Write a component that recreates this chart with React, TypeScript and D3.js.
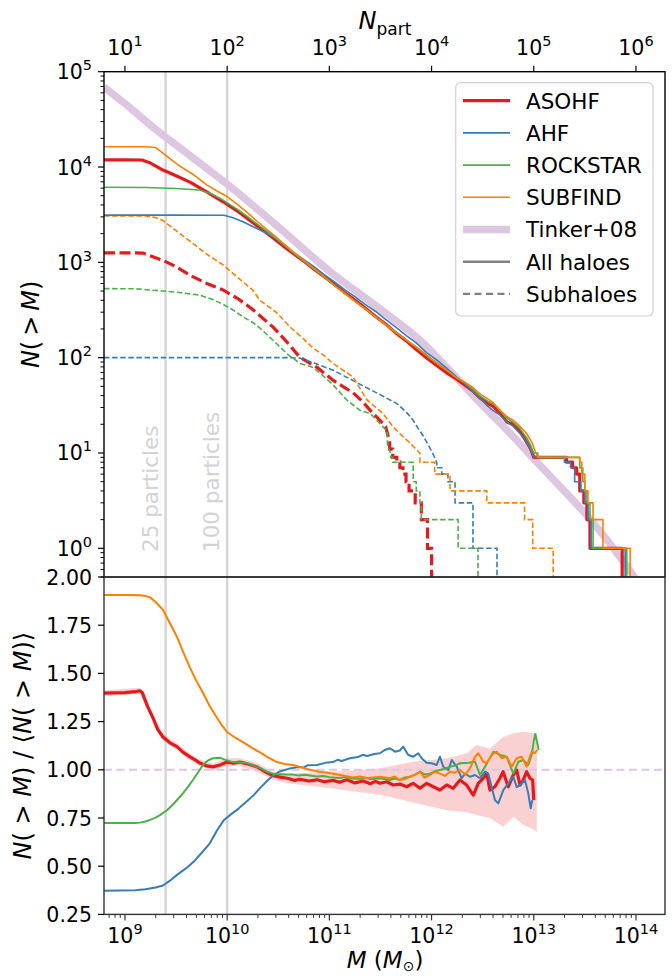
import React from "react";
import * as d3 from "d3";

// ---------------- DATA ----------------
// top panel: [log10 M, N(>M)]
const tinker08: [number, number][] = [
  [8.795, 69200], [9.0, 46200], [9.372, 21600], [9.5, 17000], [10.0, 6610], [10.5, 2350],
  [11.0, 810], [11.5, 322], [11.9, 148], [12.2, 69], [12.5, 31.6], [12.8, 14.8], [13.0, 8.7],
  [13.3, 3.98], [13.5, 2.34], [13.7, 1.29], [13.85, 0.79], [14.0, 0.468], [14.05, 0.38],
];

const asohfAll: [number, number][] = [
  [8.795, 11900], [9.0, 11900], [9.166, 11850], [9.25, 11000], [9.372, 9300], [9.5, 8100],
  [9.636, 6950], [9.8, 5500], [9.96, 4320], [10.1, 3450], [10.22, 2760], [10.33, 2250],
  [10.45, 1800], [10.55, 1480], [10.65, 1230], [10.75, 1030], [10.85, 845], [10.95, 705],
  [11.05, 585], [11.15, 482], [11.25, 402], [11.35, 331], [11.45, 272], [11.55, 226],
  [11.65, 182], [11.75, 151], [11.85, 122], [11.95, 100], [12.05, 83], [12.15, 69],
  [12.25, 59], [12.33, 51], [12.4, 45], [12.47, 38], [12.55, 33], [12.6, 31], [12.67, 26],
  [12.74, 21], [12.8, 20], [12.865, 17], [12.93, 13], [12.97, 11], [13.0, 9], [13.32, 9],
  [13.32, 8], [13.38, 8], [13.38, 7], [13.42, 7], [13.42, 6], [13.45, 6], [13.45, 4],
  [13.49, 4], [13.49, 3], [13.52, 3], [13.52, 2], [13.55, 2], [13.55, 1], [13.865, 1], [13.865, 0.1],
];

const ahfAll: [number, number][] = [
  [8.795, 3130], [9.5, 3130], [9.97, 3120], [10.05, 2950], [10.15, 2680], [10.25, 2380],
  [10.35, 2110], [10.45, 1850], [10.55, 1530], [10.65, 1260], [10.75, 1070], [10.85, 900],
  [10.95, 745], [11.05, 622], [11.15, 518], [11.25, 437], [11.35, 363], [11.45, 307],
  [11.55, 252], [11.65, 209], [11.75, 171], [11.85, 143], [11.95, 113], [12.05, 95],
  [12.15, 77], [12.25, 62], [12.33, 53], [12.4, 45], [12.47, 38], [12.55, 31], [12.6, 28],
  [12.67, 25], [12.74, 21], [12.8, 19], [12.865, 16], [12.93, 13], [12.97, 11], [13.0, 9],
  [13.3, 9], [13.3, 8], [13.36, 8], [13.36, 7], [13.4, 7], [13.4, 5], [13.46, 5], [13.46, 4],
  [13.5, 4], [13.5, 3], [13.53, 3], [13.53, 2], [13.56, 2], [13.56, 1], [13.894, 1], [13.894, 0.1],
];

const rockstarAll: [number, number][] = [
  [8.795, 6130], [9.2, 6100], [9.5, 5950], [9.73, 5750], [9.85, 5200], [9.96, 4500],
  [10.1, 3600], [10.22, 2900], [10.33, 2350], [10.45, 1880], [10.55, 1540], [10.65, 1250],
  [10.75, 1030], [10.85, 855], [10.95, 700], [11.05, 577], [11.15, 474], [11.25, 394],
  [11.35, 326], [11.45, 273], [11.55, 223], [11.65, 186], [11.75, 154], [11.85, 130],
  [11.95, 107], [12.05, 88], [12.15, 74], [12.25, 61], [12.33, 54], [12.4, 47], [12.47, 40],
  [12.55, 35], [12.6, 33], [12.67, 28], [12.74, 23], [12.8, 21], [12.865, 18], [12.93, 14.5],
  [12.97, 12], [13.0, 10], [13.04, 10], [13.04, 9], [13.45, 9], [13.45, 7], [13.48, 7],
  [13.48, 5], [13.5, 5], [13.5, 4], [13.52, 4], [13.52, 3], [13.55, 3], [13.55, 2],
  [13.58, 2], [13.58, 1], [13.91, 1], [13.91, 0.1],
];

const subfindAll: [number, number][] = [
  [8.795, 16300], [9.2, 16300], [9.3, 16000], [9.372, 14000], [9.45, 12000], [9.55, 10000],
  [9.665, 8400], [9.8, 6500], [9.9, 5600], [10.0, 4900], [10.1, 4050], [10.2, 3300],
  [10.3, 2650], [10.45, 1950], [10.55, 1580], [10.65, 1280], [10.75, 1050], [10.85, 860],
  [10.95, 702], [11.05, 570], [11.15, 472], [11.25, 389], [11.35, 326], [11.45, 269],
  [11.55, 223], [11.65, 183], [11.75, 153], [11.85, 128], [11.95, 105], [12.05, 87],
  [12.15, 73], [12.25, 61], [12.33, 55], [12.4, 49], [12.47, 42], [12.55, 37], [12.6, 34],
  [12.67, 28], [12.74, 24], [12.8, 22], [12.865, 19], [12.93, 16], [12.98, 13], [13.02, 10],
  [13.04, 9], [13.45, 9], [13.45, 8], [13.47, 8], [13.47, 6], [13.5, 6], [13.5, 4],
  [13.53, 4], [13.53, 3], [13.58, 3], [13.58, 2], [13.677, 2], [13.677, 1], [13.943, 1], [13.943, 0.1],
];

const asohfSub: [number, number][] = [
  [8.795, 1260], [9.0, 1260], [9.176, 1250], [9.372, 1050], [9.5, 900], [9.65, 720],
  [9.8, 600], [9.96, 513], [10.1, 420], [10.25, 320], [10.45, 209], [10.6, 140], [10.71, 101],
  [10.88, 79], [11.035, 58], [11.13, 50], [11.23, 43], [11.32, 35], [11.4, 28], [11.495, 22],
  [11.55, 19], [11.59, 13], [11.59, 11], [11.62, 11], [11.62, 9], [11.66, 9], [11.66, 8],
  [11.69, 8], [11.69, 7], [11.72, 7], [11.72, 6], [11.75, 6], [11.75, 5], [11.78, 5],
  [11.78, 4], [11.84, 4], [11.84, 3], [11.9, 3], [11.9, 2], [11.96, 2], [11.96, 1], [12.0, 1], [12.0, 0.1],
];

const ahfSub: [number, number][] = [
  [8.795, 100], [10.6, 100], [10.71, 99], [10.85, 88], [11.035, 74], [11.2, 60], [11.37, 48],
  [11.495, 41], [11.66, 33], [11.75, 27], [11.82, 22], [11.87, 18], [11.92, 15], [11.97, 12],
  [12.01, 10], [12.05, 8], [12.05, 7], [12.1, 7], [12.1, 6], [12.16, 6], [12.16, 5],
  [12.23, 5], [12.23, 3], [12.405, 3], [12.405, 1], [12.64, 1], [12.64, 0.1],
];

const rockstarSub: [number, number][] = [
  [8.795, 530], [9.1, 528], [9.372, 500], [9.55, 480], [9.734, 453], [9.85, 410], [9.96, 363],
  [10.05, 320], [10.155, 268], [10.25, 234], [10.33, 200], [10.419, 163], [10.5, 135],
  [10.585, 110], [10.712, 87], [10.84, 79], [10.908, 69], [11.035, 52], [11.17, 36],
  [11.3, 28], [11.4, 26], [11.466, 22], [11.564, 17], [11.57, 11.5], [11.6, 10], [11.6, 9],
  [11.62, 9], [11.62, 8], [11.82, 8], [11.82, 5], [11.85, 5], [11.85, 4], [11.886, 4],
  [11.886, 3], [11.9, 3], [11.9, 2], [12.26, 2], [12.26, 1], [12.454, 1], [12.454, 0.1],
];

const subfindSub: [number, number][] = [
  [8.795, 3060], [9.2, 3060], [9.3, 2950], [9.372, 2750], [9.5, 2150], [9.665, 1580],
  [9.8, 1220], [9.96, 940], [10.1, 700], [10.25, 513], [10.32, 400], [10.487, 295],
  [10.615, 210], [10.74, 160], [10.84, 126], [10.95, 105], [11.035, 87], [11.23, 63],
  [11.368, 36], [11.524, 26], [11.62, 19], [11.69, 16], [11.76, 13.6], [11.886, 10],
  [11.886, 8], [12.03, 8], [12.03, 6], [12.18, 6], [12.18, 4], [12.54, 4], [12.54, 3],
  [12.91, 3], [12.91, 2], [12.99, 2], [12.99, 1], [13.19, 1], [13.19, 0.1],
];

// bottom panel: [log10 M, N/<N>]
const ratioAsohf: [number, number][] = [
  [8.795, 1.398], [9.0, 1.4], [9.1, 1.405], [9.147, 1.41], [9.17, 1.4], [9.22, 1.33],
  [9.274, 1.27], [9.32, 1.21], [9.372, 1.17], [9.44, 1.14], [9.509, 1.12], [9.57, 1.09],
  [9.636, 1.067], [9.69, 1.05], [9.734, 1.035], [9.8, 1.02], [9.861, 1.015], [9.93, 1.025],
  [9.998, 1.04], [10.06, 1.035], [10.125, 1.04], [10.2, 1.03], [10.292, 1.015], [10.37, 0.99],
  [10.448, 0.97], [10.52, 0.962], [10.6, 0.955], [10.66, 0.945], [10.712, 0.95], [10.8, 0.942],
  [10.88, 0.948], [10.95, 0.938], [11.035, 0.945], [11.1, 0.935], [11.17, 0.948], [11.25, 0.932],
  [11.33, 0.942], [11.4, 0.928], [11.45, 0.94], [11.495, 0.93], [11.56, 0.938], [11.625, 0.921],
  [11.69, 0.926], [11.756, 0.912], [11.82, 0.93], [11.886, 0.904], [11.952, 0.93], [12.017, 0.912],
  [12.082, 0.895], [12.148, 0.921], [12.212, 0.904], [12.278, 0.947], [12.343, 0.921],
  [12.408, 0.869], [12.457, 0.93], [12.506, 0.956], [12.539, 0.982], [12.571, 0.895],
  [12.62, 0.912], [12.669, 0.956], [12.7, 0.99], [12.75, 0.912], [12.8, 0.973], [12.833, 0.999],
  [12.865, 0.921], [12.897, 0.947], [12.93, 0.99], [12.963, 0.956], [12.989, 0.947], [13.0, 0.843],
];

const ratioAhf: [number, number][] = [
  [8.795, 0.373], [9.1, 0.375], [9.2, 0.38], [9.3, 0.39], [9.372, 0.4], [9.44, 0.425],
  [9.509, 0.455], [9.6, 0.49], [9.685, 0.53], [9.76, 0.575], [9.832, 0.62], [9.9, 0.685],
  [9.969, 0.74], [10.04, 0.77], [10.115, 0.8], [10.19, 0.835], [10.262, 0.87], [10.33, 0.91],
  [10.4, 0.947], [10.45, 0.97], [10.507, 0.99], [10.6, 1.005], [10.693, 1.015], [10.75, 1.012],
  [10.79, 1.024], [10.879, 1.025], [10.96, 1.036], [11.035, 1.04], [11.08, 1.052], [11.12, 1.046],
  [11.2, 1.06], [11.28, 1.066], [11.33, 1.078], [11.368, 1.072], [11.44, 1.082], [11.495, 1.086],
  [11.544, 1.103], [11.593, 1.112], [11.642, 1.094], [11.69, 1.1], [11.723, 1.12], [11.772, 1.077],
  [11.821, 1.068], [11.87, 1.086], [11.903, 1.06], [11.952, 1.037], [12.001, 1.034], [12.05, 1.025],
  [12.082, 1.068], [12.115, 1.016], [12.164, 0.999], [12.197, 1.051], [12.246, 1.016],
  [12.295, 0.956], [12.327, 0.98], [12.376, 0.964], [12.425, 0.973], [12.474, 0.956],
  [12.523, 0.99], [12.555, 0.98], [12.588, 0.91], [12.62, 0.843], [12.653, 0.826], [12.702, 0.895],
  [12.75, 0.93], [12.8, 0.964], [12.833, 0.91], [12.865, 0.92], [12.914, 0.947], [12.946, 0.878],
  [12.97, 0.8], [12.985, 0.843],
];

const ratioRockstar: [number, number][] = [
  [8.795, 0.724], [9.1, 0.724], [9.147, 0.726], [9.2, 0.732], [9.245, 0.74], [9.3, 0.752],
  [9.342, 0.765], [9.411, 0.79], [9.47, 0.82], [9.538, 0.86], [9.6, 0.9], [9.665, 0.947],
  [9.72, 0.99], [9.763, 1.025], [9.81, 1.048], [9.861, 1.06], [9.93, 1.062], [9.99, 1.05],
  [10.057, 1.04], [10.125, 1.038], [10.194, 1.035], [10.26, 1.02], [10.321, 1.01], [10.39, 0.99],
  [10.448, 0.98], [10.55, 0.976], [10.644, 0.975], [10.7, 0.97], [10.76, 0.974], [10.879, 0.965],
  [10.94, 0.968], [11.0, 0.962], [11.1, 0.958], [11.16, 0.962], [11.2, 0.955], [11.3, 0.953],
  [11.36, 0.958], [11.4, 0.951], [11.495, 0.956], [11.593, 0.947], [11.64, 0.955], [11.69, 0.947],
  [11.74, 0.96], [11.789, 0.964], [11.84, 0.975], [11.886, 0.99], [11.93, 0.976], [11.984, 0.98],
  [12.03, 0.992], [12.082, 0.999], [12.13, 1.005], [12.18, 1.016], [12.23, 1.022], [12.278, 1.034],
  [12.36, 1.037], [12.425, 1.042], [12.474, 0.973], [12.523, 1.016], [12.604, 1.094],
  [12.669, 1.077], [12.734, 1.068], [12.8, 0.98], [12.85, 1.042], [12.897, 1.051], [12.946, 1.025],
  [12.98, 1.077], [13.002, 1.155], [13.015, 1.186], [13.035, 1.138], [13.048, 1.103],
];

const ratioSubfind: [number, number][] = [
  [8.795, 1.907], [9.0, 1.907], [9.15, 1.905], [9.2, 1.902], [9.25, 1.893], [9.3, 1.87],
  [9.372, 1.83], [9.45, 1.75], [9.509, 1.69], [9.57, 1.61], [9.636, 1.53], [9.7, 1.46],
  [9.763, 1.4], [9.83, 1.33], [9.9, 1.27], [9.95, 1.23], [9.998, 1.196], [10.07, 1.17],
  [10.155, 1.144], [10.24, 1.115], [10.321, 1.09], [10.4, 1.065], [10.487, 1.04], [10.56, 1.03],
  [10.644, 1.025], [10.73, 1.012], [10.81, 1.0], [10.9, 0.99], [10.97, 0.986], [11.035, 0.98],
  [11.12, 0.972], [11.23, 0.96], [11.3, 0.965], [11.37, 0.958], [11.45, 0.962], [11.495, 0.964],
  [11.593, 0.956], [11.64, 0.965], [11.69, 0.947], [11.74, 0.952], [11.789, 0.964], [11.84, 0.975],
  [11.886, 0.99], [11.93, 0.96], [11.984, 0.973], [12.03, 0.99], [12.082, 0.98], [12.13, 0.968],
  [12.18, 0.99], [12.23, 0.985], [12.278, 0.999], [12.33, 0.975], [12.376, 1.008], [12.425, 1.068],
  [12.457, 1.086], [12.506, 1.042], [12.539, 1.034], [12.588, 1.077], [12.637, 1.094],
  [12.686, 1.06], [12.735, 1.068], [12.784, 1.016], [12.833, 1.06], [12.882, 1.068],
  [12.93, 1.016], [12.98, 1.094], [13.012, 1.086], [13.035, 1.103],
];

// ASOHF spread: [log10 M, lower, upper]
const asohfBand: [number, number, number][] = [
  [8.795, 1.383, 1.413], [9.147, 1.393, 1.425], [9.22, 1.31, 1.345], [9.274, 1.25, 1.285],
  [9.372, 1.153, 1.187], [9.509, 1.103, 1.137], [9.636, 1.05, 1.085], [9.734, 1.018, 1.052],
  [9.861, 0.997, 1.033], [9.998, 1.02, 1.06], [10.125, 1.02, 1.06], [10.292, 0.99, 1.035],
  [10.448, 0.948, 0.99], [10.6, 0.93, 0.98], [10.8, 0.917, 0.985], [11.0, 0.905, 0.99],
  [11.2, 0.89, 0.995], [11.5, 0.87, 1.008], [11.82, 0.83, 1.042], [12.15, 0.79, 1.06],
  [12.34, 0.78, 1.085], [12.44, 0.765, 1.128], [12.57, 0.75, 1.11], [12.7, 0.705, 1.17],
  [12.8, 0.757, 1.19], [12.9, 0.714, 1.198], [13.0, 0.69, 1.19], [13.03, 0.675, 1.19],
];

const logMDomain: [number, number] = [8.795, 14.284];
const nTopDomain: [number, number] = [0.5, 1e5];
const ratioDomain: [number, number] = [0.25, 2.0];
const particleMass = 1e8;
const particleLines = [25, 100];
const bottomTickExps = [9, 10, 11, 12, 13, 14];
const topTickExps = [1, 2, 3, 4, 5, 6];
const leftTickExps = [0, 1, 2, 3, 4, 5];
const ratioTicks = [0.25, 0.5, 0.75, 1.0, 1.25, 1.5, 1.75, 2.0];

const COLORS = { asohf: "#e41a1c", ahf: "#377eb8", rockstar: "#4daf4a", subfind: "#ff7f00", tinker: "#dcc6e0" };

const legendItems = [
  { label: "ASOHF", color: COLORS.asohf, width: 3.2, dash: "" },
  { label: "AHF", color: COLORS.ahf, width: 1.6, dash: "" },
  { label: "ROCKSTAR", color: COLORS.rockstar, width: 1.6, dash: "" },
  { label: "SUBFIND", color: COLORS.subfind, width: 1.6, dash: "" },
  { label: "Tinker+08", color: COLORS.tinker, width: 7.5, dash: "" },
  { label: "All haloes", color: "#808080", width: 2.4, dash: "" },
  { label: "Subhaloes", color: "#808080", width: 2.4, dash: "7,4.5" },
];

// ---------------- LAYOUT ----------------
const L = 104, R = 665, T = 71.7, MID = 577, B = 914.4;
const FONT = "DejaVu Sans";

export default function App() {
  const x = d3.scaleLog().domain([Math.pow(10, logMDomain[0]), Math.pow(10, logMDomain[1])]).range([L, R]);
  const yT = d3.scaleLog().domain(nTopDomain).range([MID, T]);
  const yB = d3.scaleLinear().domain(ratioDomain).range([B, MID]);

  const topLine = (curve?: any) => {
    const g = d3.line<[number, number]>().x((d) => x(Math.pow(10, d[0]))).y((d) => yT(Math.max(d[1], 0.01)));
    if (curve) g.curve(curve);
    return g;
  };
  const botLine = d3.line<[number, number]>().x((d) => x(Math.pow(10, d[0]))).y((d) => yB(d[1]));
  const band = d3.area<[number, number, number]>()
    .x((d) => x(Math.pow(10, d[0]))).y0((d) => yB(d[1])).y1((d) => yB(d[2]));

  const yMinor: number[] = [];
  for (let e = -1; e <= 4; e++) for (let k = 2; k <= 9; k++) {
    const v = k * Math.pow(10, e);
    if (v >= nTopDomain[0] && v <= nTopDomain[1]) yMinor.push(v);
  }
  const xMinor: number[] = [];
  const [m0, m1] = x.domain();
  for (let e = 8; e <= 14; e++) for (let k = 2; k <= 9; k++) {
    const v = k * Math.pow(10, e);
    if (v >= m0 && v <= m1) xMinor.push(v);
  }

  const solidTop = [
    { d: asohfAll, c: COLORS.asohf, w: 3.2 },
    { d: ahfAll, c: COLORS.ahf, w: 1.6 },
    { d: rockstarAll, c: COLORS.rockstar, w: 1.6 },
    { d: subfindAll, c: COLORS.subfind, w: 1.6 },
  ];
  const dashedTop = [
    { d: asohfSub, c: COLORS.asohf, w: 3.2, dash: "11,4.5" },
    { d: ahfSub, c: COLORS.ahf, w: 1.6, dash: "5.5,2.6" },
    { d: rockstarSub, c: COLORS.rockstar, w: 1.6, dash: "5.5,2.6" },
    { d: subfindSub, c: COLORS.subfind, w: 1.6, dash: "5.5,2.6" },
  ];
  const ratios = [
    { d: ratioAsohf, c: COLORS.asohf, w: 3.2 },
    { d: ratioAhf, c: COLORS.ahf, w: 2.0 },
    { d: ratioRockstar, c: COLORS.rockstar, w: 2.0 },
    { d: ratioSubfind, c: COLORS.subfind, w: 2.0 },
  ];

  const tickFS = 20.5;
  const supFS = 14.5;
  const labFS = 24;

  const pow10Label = (base: string, exp: string, props: any) => (
    <text {...props} fontFamily={FONT} fontSize={tickFS} fill="#000">
      <tspan>{base}</tspan>
      <tspan dy={-9} fontSize={supFS}>{exp}</tspan>
    </text>
  );

  const legX = 455.7, legY = 82.7, legW = 197.3, legH = 233.3;

  return (
    <svg width={672} height={976} style={{ position: "absolute", left: 0, top: 0, display: "block", background: "#fff" }}>
      <defs>
        <clipPath id="clipTop"><rect x={L} y={T} width={R - L} height={MID - T} /></clipPath>
        <clipPath id="clipBot"><rect x={L} y={MID} width={R - L} height={B - MID} /></clipPath>
      </defs>
      <rect x={0} y={0} width={672} height={976} fill="#fff" />

      {particleLines.map((p) => (
        <g key={p}>
          <line x1={x(p * particleMass)} x2={x(p * particleMass)} y1={T} y2={MID} stroke="#d6d6d6" strokeWidth={2.5} />
          <line x1={x(p * particleMass)} x2={x(p * particleMass)} y1={MID} y2={B} stroke="#d6d6d6" strokeWidth={2.5} />
          <text transform={`translate(${x(p * particleMass) - 8},552) rotate(-90)`} fontFamily={FONT} fontSize={21.5} fill="#d3d3d3">
            {`${p} particles`}
          </text>
        </g>
      ))}

      <g clipPath="url(#clipTop)">
        <path d={topLine(d3.curveMonotoneX)(tinker08) || ""} fill="none" stroke={COLORS.tinker} strokeWidth={7.5} />
        {dashedTop.map((s, i) => (
          <path key={"d" + i} d={topLine()(s.d) || ""} fill="none" stroke={s.c} strokeWidth={s.w} strokeDasharray={s.dash} />
        ))}
        {solidTop.map((s, i) => (
          <path key={"s" + i} d={topLine()(s.d) || ""} fill="none" stroke={s.c} strokeWidth={s.w} strokeLinejoin="round" />
        ))}
      </g>

      <g clipPath="url(#clipBot)">
        <path d={band(asohfBand) || ""} fill={COLORS.asohf} fillOpacity={0.2} stroke="none" />
        <line x1={L} x2={R} y1={yB(1)} y2={yB(1)} stroke={COLORS.tinker} strokeWidth={2} strokeDasharray="8,4.5" />
        {ratios.map((s, i) => (
          <path key={"r" + i} d={botLine(s.d) || ""} fill="none" stroke={s.c} strokeWidth={s.w} strokeLinejoin="round" />
        ))}
      </g>

      <rect x={L} y={T} width={R - L} height={MID - T} fill="none" stroke="#000" strokeWidth={1.4} />
      <rect x={L} y={MID} width={R - L} height={B - MID} fill="none" stroke="#333" strokeWidth={1.4} />

      {topTickExps.map((e) => {
        const xx = x(Math.pow(10, e) * particleMass);
        return (
          <g key={"tt" + e}>
            <line x1={xx} x2={xx} y1={T} y2={T - 6} stroke="#000" strokeWidth={1.2} />
            {pow10Label("10", String(e), { x: xx, y: 55, textAnchor: "middle" })}
          </g>
        );
      })}
      <text x={385} y={29} fontFamily={FONT} fontSize={labFS} textAnchor="middle" fill="#000">
        <tspan fontStyle="italic">N</tspan>
        <tspan dy={6} fontSize={17}>part</tspan>
      </text>

      {yMinor.map((v, i) => (
        <line key={"ym" + i} x1={L} x2={L - 3.5} y1={yT(v)} y2={yT(v)} stroke="#000" strokeWidth={1} />
      ))}
      {leftTickExps.map((e) => {
        const yy = yT(Math.pow(10, e));
        return (
          <g key={"yl" + e}>
            <line x1={L} x2={L - 6} y1={yy} y2={yy} stroke="#000" strokeWidth={1.2} />
            {pow10Label("10", String(e), { x: 92, y: yy + 7.5, textAnchor: "end" })}
          </g>
        );
      })}
      <text transform={`translate(39,${(T + MID) / 2}) rotate(-90)`} fontFamily={FONT} fontSize={labFS} textAnchor="middle" fill="#000">
        <tspan fontStyle="italic">N</tspan><tspan>(</tspan><tspan dx={5}>&gt;</tspan><tspan dx={5} fontStyle="italic">M</tspan><tspan>)</tspan>
      </text>

      {ratioTicks.map((v) => (
        <g key={"rt" + v}>
          <line x1={L} x2={L - 6} y1={yB(v)} y2={yB(v)} stroke="#000" strokeWidth={1.2} />
          <text x={92} y={yB(v) + 7.5} textAnchor="end" fontFamily={FONT} fontSize={tickFS} fill="#000">{v.toFixed(2)}</text>
        </g>
      ))}
      <text transform={`translate(31,${(MID + B) / 2}) rotate(-90)`} fontFamily={FONT} fontSize={labFS} textAnchor="middle" fill="#000">
        <tspan fontStyle="italic">N</tspan><tspan>( &gt; </tspan><tspan fontStyle="italic">M</tspan><tspan>) / ⟨</tspan>
        <tspan fontStyle="italic">N</tspan><tspan>( &gt; </tspan><tspan fontStyle="italic">M</tspan><tspan>)⟩</tspan>
      </text>

      {xMinor.map((v, i) => (
        <line key={"xm" + i} x1={x(v)} x2={x(v)} y1={B} y2={B + 3.5} stroke="#333" strokeWidth={1} />
      ))}
      {bottomTickExps.map((e) => {
        const xx = x(Math.pow(10, e));
        return (
          <g key={"bx" + e}>
            <line x1={xx} x2={xx} y1={B} y2={B + 6} stroke="#333" strokeWidth={1.2} />
            {pow10Label("10", String(e), { x: xx, y: 943, textAnchor: "middle" })}
          </g>
        );
      })}
      <text x={385} y={968} fontFamily={FONT} fontSize={23} textAnchor="middle" fill="#000">
        <tspan fontStyle="italic">M</tspan><tspan> (</tspan><tspan fontStyle="italic">M</tspan>
        <tspan dy={3} fontSize={14}>⊙</tspan><tspan dy={-3}>)</tspan>
      </text>

      <rect x={legX} y={legY} width={legW} height={legH} rx={5} fill="#fff" fillOpacity={0.85} stroke="#d0d0d0" strokeWidth={1.2} />
      {legendItems.map((it, i) => {
        const cy = 100.7 + i * 32.2;
        return (
          <g key={it.label}>
            <line x1={463} x2={510} y1={cy} y2={cy} stroke={it.color} strokeWidth={it.width} strokeDasharray={it.dash} />
            <text x={526} y={cy + 7.8} fontFamily={FONT} fontSize={21.5} fill="#000">{it.label}</text>
          </g>
        );
      })}
    </svg>
  );
}
